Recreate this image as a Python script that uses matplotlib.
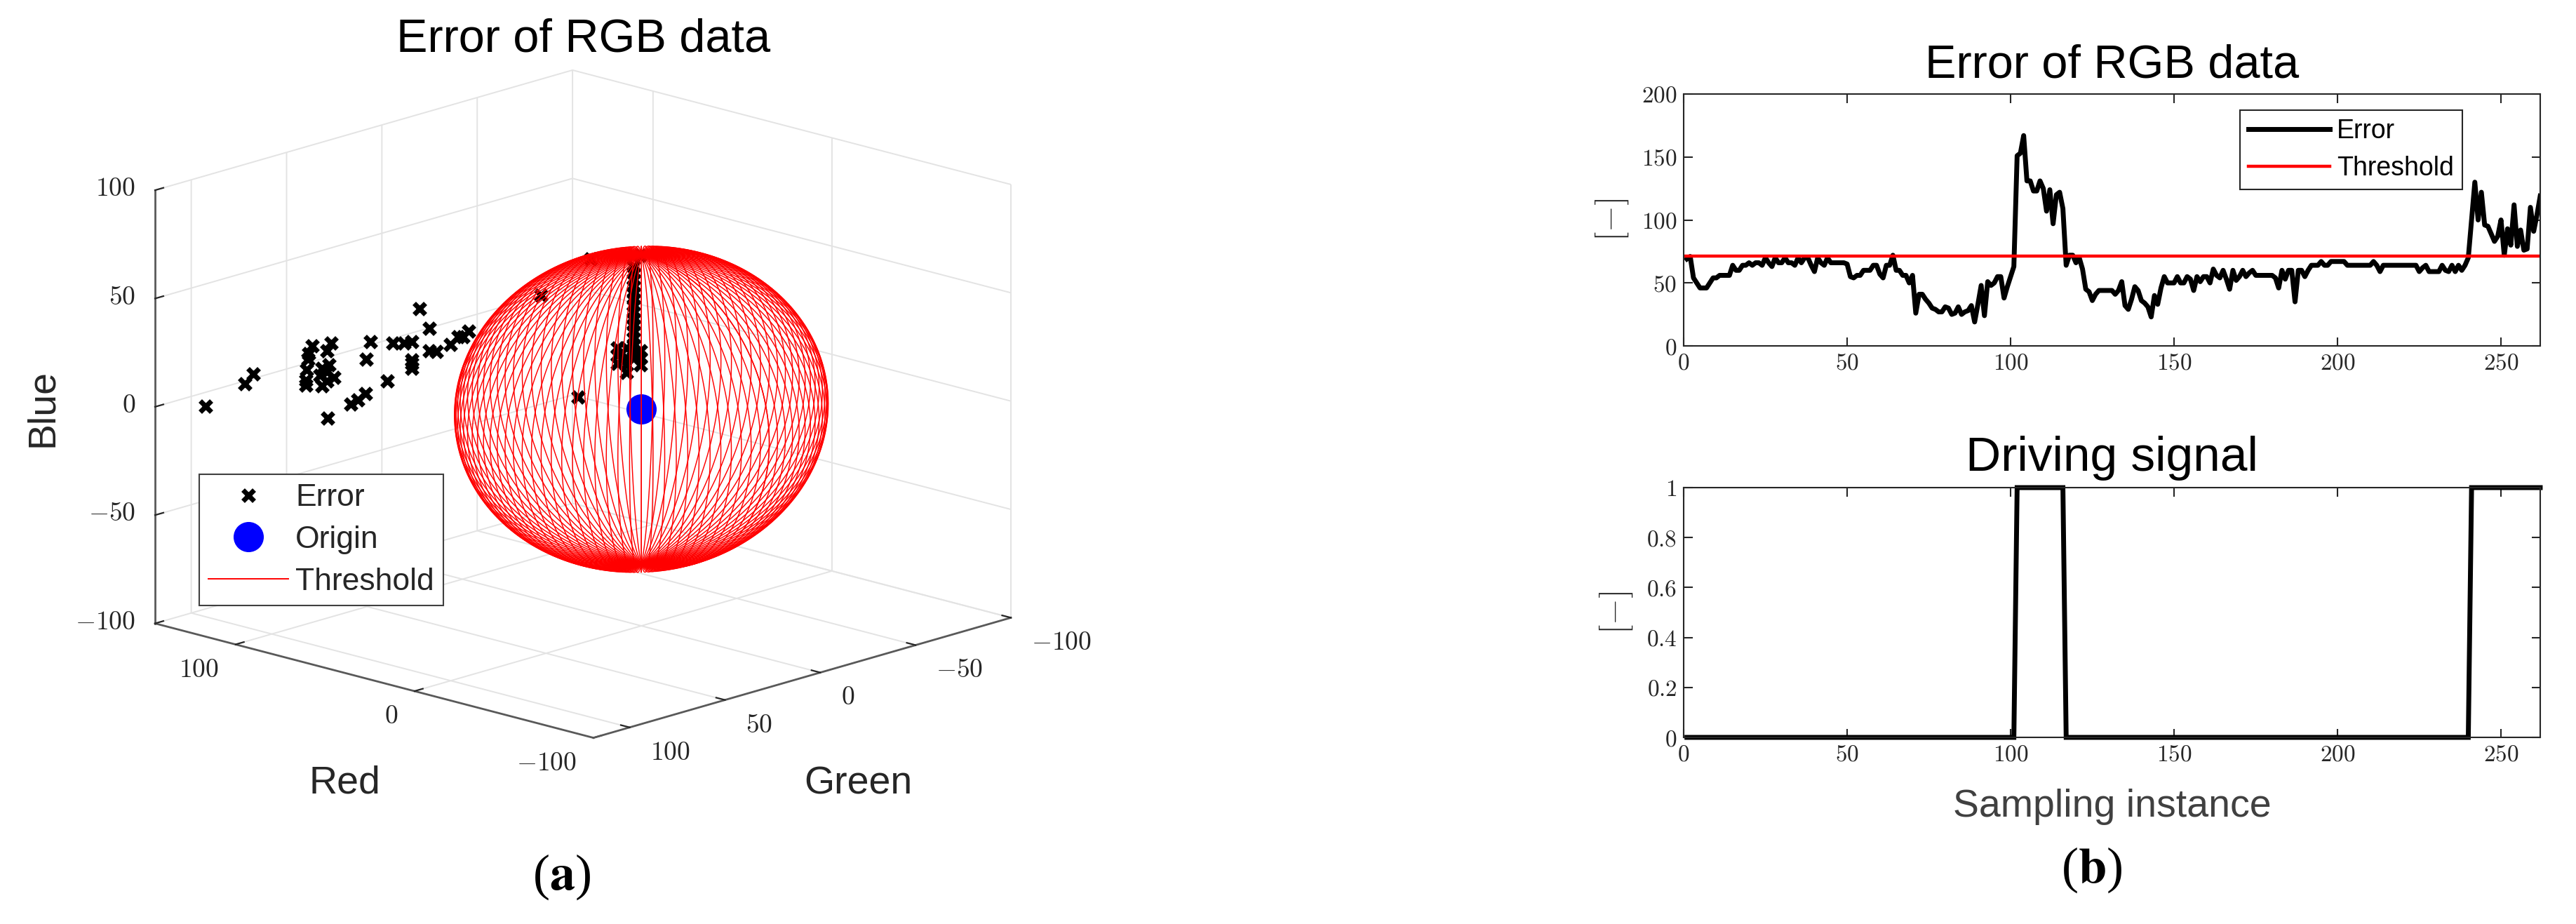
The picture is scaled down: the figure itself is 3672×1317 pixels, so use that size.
import numpy as np
import matplotlib
matplotlib.use("Agg")
import matplotlib.pyplot as plt
from matplotlib.lines import Line2D
from matplotlib.transforms import Affine2D
from mpl_toolkits.mplot3d import proj3d

plt.rcParams['font.family'] = ['Liberation Sans', 'DejaVu Sans']
plt.rcParams['mathtext.fontset'] = 'cm'

W, H = 3672, 1317
DARK = '#262626'

# ---------- data: panel (a) ----------
threshold = 71.5
red_lim = (-100, 145)
green_lim = (-100, 119)
blue_lim = (-100, 100)
red_ticks = [-100, 0, 100]
green_ticks = [-100, -50, 0, 50, 100]
blue_ticks = [-100, -50, 0, 50, 100]

err_rg = [117.9, 107.3, 105, 90.8, 90.8, 90.6, 90.3, 90, 89.1, 84, 85, 84.5, 86.5, 85, 83.1, 85,
          86.5, 87, 84.8, 78.7, 76.8, 74.6, 73.4, 74.4, 68.7, 67.3, 64.2, 62.2, 62.2, 62.2, 62.2,
          57.4, 55.5, 60.1, 57.4, 51.6, 49.6, 48.2, 46.7, 27.1, 13.8, 17.2,
          2.2, 2.2, 2.2, 2.2, 2.2, 2.2, 2.2, 2.2, 2.2, 2.2, 2.2, 2.2, 2.2, 2.2, 2.2,
          6.5, 6.5, 6.5, 4.1, 4.1, 4.1, 4.1, 0.2, 0.2, 0.2, 2.2, 0.5]
err_blue = [5.7, 15.7, 20.4, 14.4, 16.9, 21.8, 26.6, 29.1, 32.7, 33.6, 30.2, 23.7, 22.1, 20.5, 17.7, 16.2,
            14.0, 19.0, -0.9, 5.4, 7.2, 10.1, 33.9, 25.8, 15.6, 33.0, 32.9, 33.7, 25.1, 23.5, 21.3,
            29.2, 28.6, 48.7, 39.5, 31.7, 35.4, 35.3, 37.7, 53.5, 69.9, 6.4,
            66, 63, 60, 57, 54, 51, 48, 45, 42, 39, 36, 33, 30, 27, 24,
            28.4, 25.2, 21.4, 28.3, 24, 20.8, 17, 27.1, 23.9, 20.6, 71.2, 71.2]
origin = [0, 0, 0]

# ---------- data: panel (b) ----------
error_signal = [
    69, 71, 54, 50, 46, 46, 46, 50, 54, 54,
    56, 56, 56, 56, 64, 60, 60, 64, 64, 66,
    64, 66, 66, 64, 70, 66, 63, 70, 66, 66,
    70, 66, 66, 64, 70, 66, 70, 70, 64, 59,
    70, 66, 64, 70, 66, 66, 66, 66, 66, 65,
    55, 54, 56, 56, 60, 60, 60, 64, 64, 57,
    54, 64, 64, 72, 60, 60, 56, 56, 50, 56,
    26, 41, 41, 37, 34, 30, 29, 27, 27, 31,
    30, 25, 26, 31, 25, 27, 28, 32, 19, 33,
    48, 24, 51, 48, 50, 55, 55, 38, 47, 55,
    63, 151, 153, 167, 131, 131, 123, 123, 131, 125,
    107, 124, 97, 120, 122, 109, 64, 72, 72, 66,
    70, 61, 45, 43, 36, 41, 44, 44, 44, 44,
    44, 41, 44, 51, 32, 29, 37, 47, 44, 36,
    34, 31, 23, 40, 33, 46, 55, 50, 50, 50,
    55, 50, 50, 55, 53, 44, 55, 51, 55, 55,
    50, 61, 56, 54, 60, 53, 45, 60, 52, 55,
    60, 55, 58, 60, 56, 56, 56, 56, 56, 56,
    54, 46, 60, 53, 60, 60, 35, 60, 60, 55,
    60, 64, 64, 64, 67, 64, 64, 67, 67, 67,
    67, 67, 64, 64, 64, 64, 64, 64, 64, 64,
    67, 64, 59, 64, 64, 64, 64, 64, 64, 64,
    64, 64, 64, 64, 59, 62, 64, 59, 59, 59,
    59, 64, 60, 59, 64, 59, 64, 60, 64, 70,
    100, 130, 100, 122, 96, 95, 89, 83, 87, 100,
    72, 93, 80, 112, 79, 92, 76, 77, 110, 91, 104, 119]
driving_signal = [0] * 101 + [1] * 15 + [0] * 124 + [1] * 22
x_ticks = [0, 50, 100, 150, 200, 250]
err_yticks = [0, 50, 100, 150, 200]
drv_yticks = [0, 0.2, 0.4, 0.6, 0.8, 1]
drv_ylabels = ['0', '0.2', '0.4', '0.6', '0.8', '1']

fig = plt.figure(figsize=(W / 100, H / 100), dpi=100, facecolor='white')


def m(v):
    return f'${v}$'


def rect(l, t, r, b):
    return [l / W, 1 - b / H, (r - l) / W, (b - t) / H]


# ---------- panel (a) ----------
ax3 = fig.add_axes(rect(100, 0, 1400, 1300), projection='3d', computed_zorder=False, proj_type='ortho')
ax3.set_facecolor('none')
ax3.set_xlim(*red_lim)
ax3.set_ylim(*green_lim)
ax3.set_zlim(*blue_lim)
ax3.view_init(elev=15.9, azim=133.6)
ax3.set_box_aspect((1, 1, 0.744))

ax3.set_xticks(red_ticks, [m(v) for v in red_ticks])
ax3.set_yticks(green_ticks, [m(v) for v in green_ticks])
ax3.set_zticks(blue_ticks, [m(v) for v in blue_ticks])
ax3.tick_params(axis='both', labelsize=27, colors=DARK)
ax3.zaxis.set_ticks_position('upper')
ax3.zaxis.set_label_position('upper')

for axis in (ax3.xaxis, ax3.yaxis, ax3.zaxis):
    axis.set_pane_color((1, 1, 1, 0))
    axis.pane.set_edgecolor('#d9d9d9')
    axis.pane.set_linewidth(1.4)
    axis.line.set_color('#595959')
    axis.line.set_linewidth(2.0)
    axis._axinfo['grid'].update(color='#e3e3e3', linewidth=1.4)
    axis._axinfo['tick'].update(inward_factor=0.0, outward_factor=0.25, linewidth={True: 1.6, False: 1.0})
    axis._axinfo['tick']['color'] = '#595959'
    axis.set_rotate_label(False)

ax3.set_xlabel('Red', fontsize=40, color=DARK, labelpad=60, rotation=0)
ax3.set_ylabel('Green', fontsize=40, color=DARK, labelpad=60, rotation=0)
ax3.set_zlabel('Blue', fontsize=40, color=DARK, labelpad=60, rotation=90)


def nudge(text, dx, dy):
    """Shift a 3-D axis text by a few pixels on screen; mplot3d resets its transform while drawing."""
    original_draw = text.draw

    def draw(renderer):
        text._transform = ax3.transData + Affine2D().translate(dx, dy)
        original_draw(renderer)

    text.draw = draw


nudge(ax3.xaxis.label, 54, -19)
nudge(ax3.yaxis.label, -21, -26)
nudge(ax3.zaxis.label, 37, 0)
for axis, ha, dx, dy in ((ax3.xaxis, 'right', -10, 0), (ax3.yaxis, 'left', 15, 0), (ax3.zaxis, 'right', 0, 20)):
    for tick in axis.get_major_ticks():
        tick.label1.set_ha(ha)
        nudge(tick.label1, dx, dy)

h_err, = ax3.plot(err_rg, err_rg, err_blue, ls='none', marker='x', ms=12, mew=5, color='black',
                  zorder=2, label='Error')
h_org, = ax3.plot([origin[0]], [origin[1]], [origin[2]], ls='none', marker='o', ms=31, color='#0000ff',
                  mec='none', zorder=3, label='Origin')

lon = np.linspace(-np.pi, np.pi, 101)
lat = np.linspace(-np.pi / 2, np.pi / 2, 81)
LON, LAT = np.meshgrid(lon, lat)
ax3.plot_wireframe(threshold * np.cos(LAT) * np.cos(LON), threshold * np.cos(LAT) * np.sin(LON),
                   threshold * np.sin(LAT), rstride=0, cstride=1, color='#ff0000', linewidth=1.05, zorder=4)
h_thr = Line2D([0], [0], color='#ff0000', lw=1.4, label='Threshold')


def corner(pt):
    x2, y2, _ = proj3d.proj_transform(*pt, ax3.get_proj())
    d = ax3.transData.transform((x2, y2))
    return d[0], H - d[1]


# fit the 3-D box on the canvas: left (red max, green max) and right (red min, green min) floor corners
left_pt = (red_lim[1], green_lim[1], blue_lim[0])
right_pt = (red_lim[0], green_lim[0], blue_lim[0])
target_left, target_right = (221, 888), (1441, 881)
size, cx, cy = 1300.0, 750.0, 650.0
for _ in range(4):
    ax3.set_position(rect(cx - size / 2, cy - size / 2, cx + size / 2, cy + size / 2))
    ax3.apply_aspect()
    fig.canvas.draw()
    lx, ly = corner(left_pt)
    rx, ry = corner(right_pt)
    k = (target_right[0] - target_left[0]) / (rx - lx)
    size *= k
    cx += ((target_left[0] + target_right[0]) / 2 - (lx + rx) / 2)
    cy += ((target_left[1] + target_right[1]) / 2 - (ly + ry) / 2)
ax3.set_position(rect(cx - size / 2, cy - size / 2, cx + size / 2, cy + size / 2))
ax3.apply_aspect()

fig.text(832 / W, 1 - 57 / H, 'Error of RGB data', fontsize=48, color='black', ha='center', va='center')

leg = ax3.legend(handles=[h_err, h_org, h_thr], loc='upper left',
                 bbox_to_anchor=(284 / W, 1 - 676 / H), bbox_transform=fig.transFigure,
                 fontsize=32, frameon=True, fancybox=False, framealpha=1, edgecolor='#404040',
                 borderaxespad=0, borderpad=0.3, handlelength=2.55, handletextpad=0.23, labelspacing=0.42,
                 numpoints=1)
leg.get_frame().set_linewidth(1.5)
for t in leg.get_texts():
    t.set_color(DARK)

# ---------- panel (b) ----------
sample = np.arange(1, len(error_signal) + 1)


def style2d(ax):
    ax.set_xlim(0, 262)
    ax.set_xticks(x_ticks, [m(v) for v in x_ticks])
    ax.tick_params(direction='in', length=9, width=1.5, top=True, right=True, labelsize=24, color=DARK,
                   labelcolor=DARK, pad=7)
    for s in ax.spines.values():
        s.set_linewidth(1.5)
        s.set_color(DARK)


ax1 = fig.add_axes(rect(2400, 134, 3621, 493))
ax1.plot(sample, error_signal, color='black', lw=5, solid_joinstyle='round', label='Error')
ax1.axhline(threshold, color='#ff0000', lw=3.2, label='Threshold')
ax1.set_ylim(0, 200)
ax1.set_yticks(err_yticks, [m(v) for v in err_yticks])
style2d(ax1)
ax1.set_title('Error of RGB data', fontsize=48, color='black', pad=17)
ax1.set_ylabel('$[-]$', fontsize=35, color=DARK, rotation=90, va='center', ha='center')
ax1.yaxis.set_label_coords(-0.084, 0.5)
leg1 = ax1.legend(loc='upper left', bbox_to_anchor=(3193 / W, 1 - 157 / H), bbox_transform=fig.transFigure,
                  fontsize=27, frameon=True, fancybox=False, framealpha=1, edgecolor=DARK, borderaxespad=0,
                  borderpad=0.32, handlelength=3.1, handletextpad=0.27, labelspacing=0.45)
leg1.get_frame().set_linewidth(1.5)

ax2 = fig.add_axes(rect(2400, 695, 3621, 1051))
ax2.plot(sample, driving_signal, color='black', lw=5, clip_on=False, solid_joinstyle='miter')
ax2.set_ylim(0, 1)
ax2.set_yticks(drv_yticks, [m(v) for v in drv_ylabels])
style2d(ax2)
ax2.set_title('Driving signal', fontsize=50, color='black', pad=17)
ax2.set_xlabel('Sampling instance', fontsize=40, color='#404040', labelpad=23)
ax2.set_ylabel('$[-]$', fontsize=35, color=DARK, rotation=90, va='center', ha='center')
ax2.yaxis.set_label_coords(-0.079, 0.5)

for label, xc, yc in (('a', 801, 1250), ('b', 2982, 1240)):
    fig.text(xc / W, 1 - yc / H, rf'($\mathbf{{{label}}}$)', fontsize=52, family='Liberation Serif',
             math_fontfamily='stix', ha='center', va='center', color='black')

fig.savefig('out.png', dpi=100, facecolor='white')
